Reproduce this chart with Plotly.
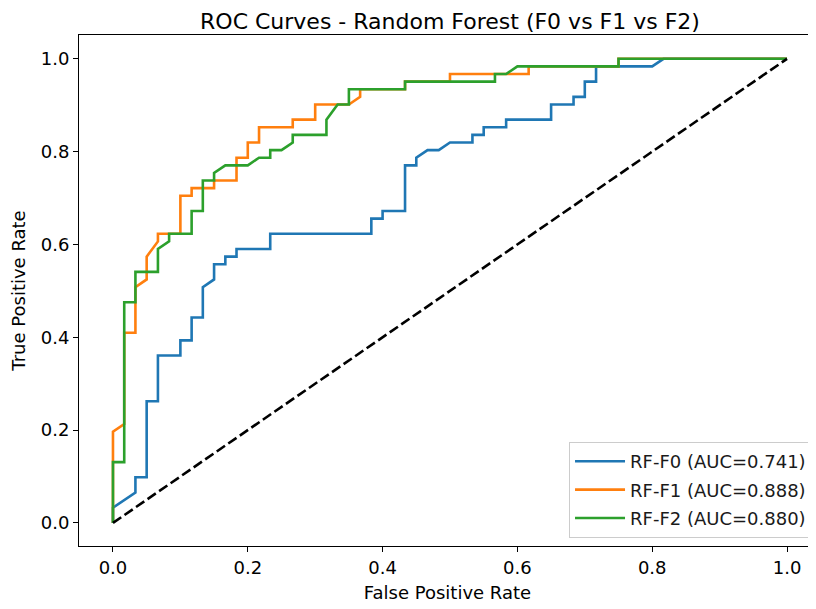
import plotly.graph_objects as go

# ---- data ----
labels = ["RF-F0", "RF-F1", "RF-F2"]
auc_values = [0.741, 0.888, 0.880]
colors = ["#1f77b4", "#ff7f0e", "#2ca02c"]

f0_fpr = [0, 0, 0.0333, 0.0333, 0.05, 0.05, 0.0667, 0.0667, 0.1, 0.1,
          0.1167, 0.1167, 0.1333, 0.1333, 0.15, 0.15, 0.1667, 0.1667, 0.1833, 0.1833,
          0.2333, 0.2333, 0.3833, 0.3833, 0.4, 0.4, 0.4333, 0.4333, 0.45, 0.45,
          0.4667, 0.4833, 0.5, 0.5333, 0.5333, 0.55, 0.55, 0.5833, 0.5833, 0.65,
          0.65, 0.6833, 0.6833, 0.7, 0.7, 0.7167, 0.7167, 0.8, 0.8167, 1.0]
f0_tpr = [0, 0.0328, 0.0656, 0.0984, 0.0984, 0.2623, 0.2623, 0.3607, 0.3607, 0.3934,
          0.3934, 0.4426, 0.4426, 0.5082, 0.5246, 0.5574, 0.5574, 0.5738, 0.5738, 0.5902,
          0.5902, 0.6230, 0.6230, 0.6557, 0.6557, 0.6721, 0.6721, 0.7705, 0.7705, 0.7869,
          0.8033, 0.8033, 0.8197, 0.8197, 0.8361, 0.8361, 0.8525, 0.8525, 0.8689, 0.8689,
          0.9016, 0.9016, 0.9180, 0.9180, 0.9508, 0.9508, 0.9836, 0.9836, 1.0, 1.0]

f1_fpr = [0, 0, 0.0167, 0.0167, 0.0333, 0.0333, 0.05, 0.05, 0.0667, 0.0667,
          0.1, 0.1, 0.1167, 0.1167, 0.15, 0.15, 0.1833, 0.1833, 0.2, 0.2,
          0.2167, 0.2167, 0.2667, 0.2667, 0.3, 0.3, 0.35, 0.3667, 0.3667, 0.4333,
          0.4333, 0.5, 0.5, 0.6167, 0.6167, 0.75, 0.75, 1.0]
f1_tpr = [0, 0.1967, 0.2131, 0.4098, 0.4098, 0.5082, 0.5246, 0.5738, 0.6066, 0.6230,
          0.6230, 0.7049, 0.7049, 0.7213, 0.7213, 0.7377, 0.7377, 0.7869, 0.7869, 0.8197,
          0.8197, 0.8525, 0.8525, 0.8689, 0.8689, 0.9016, 0.9016, 0.9180, 0.9344, 0.9344,
          0.9508, 0.9508, 0.9672, 0.9672, 0.9836, 0.9836, 1.0, 1.0]

f2_fpr = [0, 0, 0.0167, 0.0167, 0.0333, 0.0333, 0.0667, 0.0667, 0.0833, 0.0833,
          0.1167, 0.1167, 0.1333, 0.1333, 0.15, 0.15, 0.1667, 0.2, 0.2167, 0.2333,
          0.2333, 0.25, 0.2667, 0.2667, 0.3167, 0.3167, 0.3333, 0.35, 0.35, 0.4333,
          0.4333, 0.5667, 0.5667, 0.5833, 0.6, 0.75, 0.75, 1.0]
f2_tpr = [0, 0.1311, 0.1311, 0.4754, 0.4754, 0.5410, 0.5410, 0.5902, 0.6066, 0.6230,
          0.6230, 0.6721, 0.6721, 0.7377, 0.7377, 0.7541, 0.7705, 0.7705, 0.7869, 0.7869,
          0.8033, 0.8033, 0.8197, 0.8361, 0.8361, 0.8689, 0.9016, 0.9016, 0.9344, 0.9344,
          0.9508, 0.9508, 0.9672, 0.9672, 0.9836, 0.9836, 1.0, 1.0]

chance_x = [0, 1]
chance_y = [0, 1]

curves = [(f0_fpr, f0_tpr), (f1_fpr, f1_tpr), (f2_fpr, f2_tpr)]

FONT = "DejaVu Sans"

fig = go.Figure()
for i, (fx, fy) in enumerate(curves):
    fig.add_trace(go.Scatter(
        x=fx, y=fy, mode="lines",
        name=f"{labels[i]} (AUC={auc_values[i]:.3f})",
        line=dict(color=colors[i], width=2.6),
        legendgroup=f"g{i}",
    ))

fig.add_trace(go.Scatter(
    x=chance_x, y=chance_y, mode="lines", showlegend=False,
    line=dict(color="black", width=2.6, dash="10px,4px"),
))

# the page body adds an 8px offset, so the figure is laid out 8px smaller
W, H = 808, 601
ML, MT, MB = 71, 27, 63

fig.update_layout(
    width=W, height=H,
    paper_bgcolor="white", plot_bgcolor="white",
    margin=dict(l=ML, r=0, t=MT, b=MB, autoexpand=False),
    font=dict(family=FONT, size=18, color="black"),
    title=dict(text="ROC Curves - Random Forest (F0 vs F1 vs F2)",
               x=(442 - ML) / (W - ML), xanchor="center",
               y=1 - 13 / H, yanchor="middle",
               xref="paper", yref="container",
               font=dict(family=FONT, size=22, color="black")),
    legend=dict(x=0.9946, y=0.0157, xanchor="right", yanchor="bottom",
                bgcolor="rgba(255,255,255,0.85)", bordercolor="#cccccc", borderwidth=1,
                font=dict(family=FONT, size=18, color="#1a1a1a"),
                tracegroupgap=2, itemwidth=50),
    showlegend=True,
)

fig.update_xaxes(
    range=[-0.0504, 1.043], showgrid=False, zeroline=False, automargin=False,
    showline=True, linecolor="black", linewidth=1.1, mirror=True,
    ticks="outside", ticklen=5, tickwidth=1.1, tickcolor="black",
    tickvals=[0, 0.2, 0.4, 0.6, 0.8, 1.0], tickformat=".1f",
    title=dict(text="False Positive Rate", standoff=9, font=dict(size=18)),
)
fig.update_yaxes(
    range=[-0.0497, 1.0513], showgrid=False, zeroline=False, automargin=False,
    showline=True, linecolor="black", linewidth=1.1, mirror=False,
    ticks="outside", ticklen=5, tickwidth=1.1, tickcolor="black",
    tickvals=[0, 0.2, 0.4, 0.6, 0.8, 1.0], tickformat=".1f",
    title=dict(text="True Positive Rate", standoff=13, font=dict(size=18)),
)

fig.write_html("out.html")
